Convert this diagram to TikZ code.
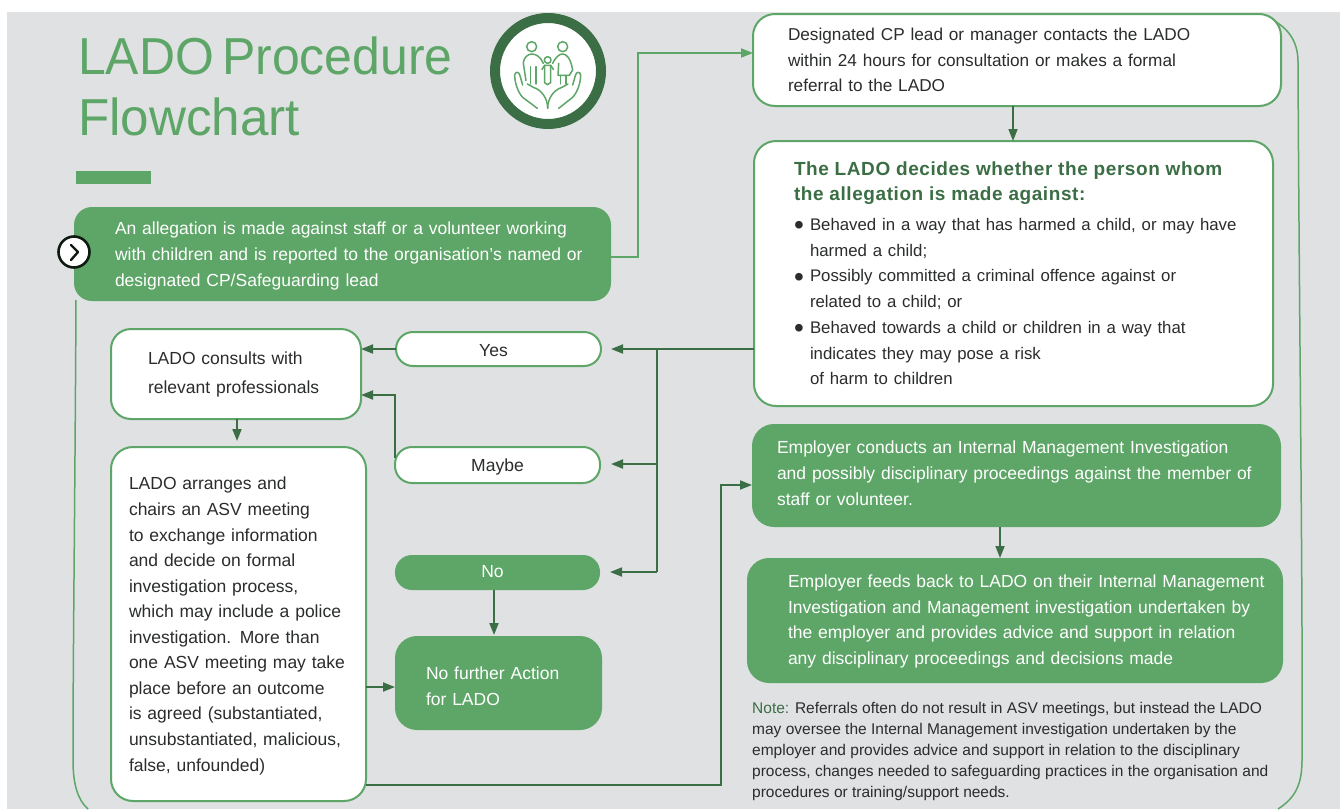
\documentclass[tikz,border=0pt]{standalone}
\usepackage{fontspec}
\setmainfont{Liberation Sans}
\usetikzlibrary{arrows.meta}
\definecolor{gfill}{HTML}{5DA667}
\definecolor{gdark}{HTML}{3B6E45}
\definecolor{gbg}{HTML}{E0E1E3}
\definecolor{gtext}{HTML}{2A2D2B}
\newcommand{\bodyf}{\fontsize{17.5}{25.7}\selectfont}
\newcommand{\topgap}[1]{\rule{0pt}{#1pt}}
\newcommand{\botgap}[1]{\rule[-#1pt]{0pt}{1pt}}
\newcommand{\bigdot}{\makebox[16pt][l]{\raisebox{-4.2pt}[0pt][0pt]{\fontsize{28}{28}\selectfont\textbullet}}}
\tikzset{
  x=1pt,y=-1pt,
  boxbase/.style={rectangle,anchor=north west,align=left,inner ysep=0pt,outer sep=0pt,font=\bodyf},
  wbox/.style={boxbase,draw=gfill,line width=2pt,fill=white,text=gtext},
  gbox/.style={boxbase,fill=gfill,text=white},
  pillw/.style={rectangle,anchor=north west,outer sep=0pt,draw=gfill,line width=2pt,fill=white,text=gtext,align=center,font=\bodyf,inner sep=0pt,rounded corners=17pt},
  pillg/.style={rectangle,anchor=north west,outer sep=0pt,fill=gfill,text=white,align=center,font=\bodyf,inner sep=0pt,rounded corners=17pt},
  link/.style={draw=gdark,line width=1.8pt,-{Triangle[length=12pt,width=9pt]}},
  lightlink/.style={draw=gfill,line width=1.8pt,-{Triangle[length=12pt,width=9pt]}},
  outline/.style={draw=gfill,line width=1.5pt},
  iconline/.style={draw=gfill,line width=1.5pt,line join=round,line cap=round},
}
\begin{document}
\begin{tikzpicture}
\useasboundingbox (0,0) rectangle (1340,809);
\fill[gbg] (7,12) rectangle (1340,809);

% outer outline
\draw[outline] (76,300) .. controls (75,500) and (73,650) .. (73,760) .. controls (73,785) and (78,800) .. (88,809);
\draw[outline] (1262,15) .. controls (1285,24) and (1298,38) .. (1298,62) .. controls (1299,300) and (1303,600) .. (1302,760) .. controls (1302,785) and (1295,798) .. (1278,809);

% title
\node[anchor=base west,inner sep=0pt,text=gfill,font=\fontsize{52}{61}\selectfont,xscale=0.96] (titleA) at (78,74) {LADO\hspace{8.5pt}Procedure};
\node[anchor=base west,inner sep=0pt,text=gfill,font=\fontsize{52}{61}\selectfont,xscale=0.985] (titleB) at (78,135) {Flowchart};
\fill[gfill] (76,171) rectangle (151,184);

% icon
\node[circle,draw=gdark,line width=10pt,fill=white,minimum size=106pt,inner sep=0pt] (icon) at (548,71) {};
\begin{scope}[shift={(480,10)},scale=0.3333]
  \draw[iconline] (155,110) circle (15);
  \draw[iconline] (248,110) circle (15);
  \draw[iconline] (203,150) circle (10);
  % left adult
  \draw[iconline] (138,212) -- (130,160) .. controls (130,142) and (145,132) .. (155,132) .. controls (170,132) and (182,142) .. (190,160);
  \draw[iconline] (152,170) -- (152,222) (168,170) -- (168,222);
  % right adult
  \draw[iconline] (218,160) .. controls (228,140) and (238,132) .. (248,132) .. controls (260,132) and (272,145) .. (278,180) -- (268,196) -- (234,196) -- (236,160);
  \draw[iconline] (242,196) -- (242,222) (258,196) -- (258,222);
  % child
  \draw[iconline] (186,178) -- (194,166) -- (212,166) -- (220,178);
  \draw[iconline] (194,166) -- (194,218) -- (202,224) -- (212,218) -- (212,166);
  % hands
  \draw[iconline] (172,295) -- (128,262) .. controls (112,245) and (104,215) .. (104,195) .. controls (106,183) and (118,185) .. (120,197) -- (128,225);
  \draw[iconline] (142,222) -- (160,232) .. controls (185,240) and (203,265) .. (203,295);
  \draw[iconline] (236,295) -- (278,262) .. controls (294,245) and (302,215) .. (302,195) .. controls (300,183) and (288,185) .. (286,197) -- (278,225);
  \draw[iconline] (264,222) -- (246,232) .. controls (221,240) and (203,265) .. (203,295);
\end{scope}

% boxes
\node[gbox,rounded corners=18pt,minimum width=537pt,minimum height=94pt,text width=455pt,inner xsep=41pt] (alleg) at (74,207) {\topgap{16.6}\mbox{An allegation is made against staff or a volunteer working}\\\mbox{with children and is reported to the organisation’s named or}\\designated CP/Safeguarding lead};
\node[circle,draw=black!75!gdark,line width=2.6pt,fill=white,minimum size=31pt,inner sep=0pt] (badge) at (74,252) {};
\draw[draw=black!75!gdark,line width=2.4pt,line cap=round,line join=round] (71,245) -- (78,252) -- (71,260);

\node[wbox,rounded corners=22pt,minimum width=528pt,minimum height=92pt,text width=458pt,inner xsep=35pt] (contact) at (753,14) {{\fontsize{17.2}{25.7}\selectfont Designated CP lead or manager contacts the LADO\\within 24 hours for consultation or makes a formal\\referral to the LADO}};

\node[wbox,rounded corners=22pt,minimum width=519pt,minimum height=265pt,text width=439pt,inner xsep=40pt] (decides) at (754,141) {{\fontsize{19}{25}\selectfont\bfseries\addfontfeature{LetterSpace=3}\color{gdark}The LADO decides whether the person whom\\the allegation is made against:\par}\vspace{4pt}\fontsize{16.8}{25.7}\selectfont\mbox{\bigdot Behaved in a way that has harmed a child, or may have}\\\hspace*{16pt}harmed a child;\\\bigdot Possibly committed a criminal offence against or\\\hspace*{16pt}related to a child; or\\\bigdot Behaved towards a child or children in a way that\\\hspace*{16pt}indicates they may pose a risk\\\hspace*{16pt}of harm to children};

\node[wbox,rounded corners=20pt,minimum width=250pt,minimum height=90pt,text width=176pt,inner xsep=37pt,font=\fontsize{17.5}{29}\selectfont] (consults) at (111,329) {LADO consults with\\relevant professionals};

\node[pillw,minimum width=205pt,minimum height=34pt] (yes) at (396,332) {\topgap{14.6}Yes\hspace*{10pt}};
\node[pillw,minimum width=205pt,minimum height=36pt] (maybe) at (395,447) {\topgap{16.6}Maybe};
\node[pillg,minimum width=205pt,minimum height=35pt] (no) at (395,555) {\botgap{2}No\hspace*{10pt}};

\node[gbox,rounded corners=22pt,minimum width=207pt,minimum height=94pt,text width=145pt,inner xsep=31pt] (nofurther) at (395,636) {\topgap{18.6}No further Action\\for LADO};

\node[wbox,rounded corners=22pt,minimum width=255pt,minimum height=354pt,text width=219pt,inner xsep=18pt,font=\fontsize{17.5}{25.55}\selectfont] (asv) at (111,447) {\topgap{16.6}LADO arranges and\\chairs an ASV meeting\\to exchange information\\and decide on formal\\investigation process,\\which may include a police\\investigation. More than\\one ASV meeting may take\\place before an outcome\\is agreed (substantiated,\\unsubstantiated, malicious,\\false, unfounded)};

\node[gbox,rounded corners=22pt,minimum width=529pt,minimum height=103pt,text width=479pt,inner xsep=25pt] (employer) at (752,424) {Employer conducts an Internal Management Investigation\\and possibly disciplinary proceedings against the member of\\staff or volunteer.\botgap{4.7}};

\node[gbox,rounded corners=22pt,minimum width=536pt,minimum height=125pt,text width=454pt,inner xsep=41pt] (feeds) at (747,558) {\topgap{14.6}\mbox{Employer feeds back to LADO on their Internal Management}\\\mbox{Investigation and Management investigation undertaken by}\\the employer and provides advice and support in relation\\any disciplinary proceedings and decisions made};

\node[anchor=north west,inner sep=0pt,align=left,text=gtext,font=\fontsize{15.5}{21}\selectfont] (note) at (752,702) {{\color{gdark}Note:} Referrals often do not result in ASV meetings, but instead the LADO\\may oversee the Internal Management investigation undertaken by the\\employer and provides advice and support in relation to the disciplinary\\process, changes needed to safeguarding practices in the organisation and\\procedures or training/support needs.};

% connectors
\coordinate (aR) at (alleg.east |- 0,257);
\coordinate (c1) at (638,257);
\coordinate (c2) at (638,53);
\coordinate (cL) at (contact.west |- 0,53);
\draw[lightlink] (aR) -- (c1) -- (c2) -- (cL);

\coordinate (cB) at (1013,106);
\coordinate (dT) at (1013,141);
\draw[link] (cB) -- (dT);

\coordinate (dL) at (decides.west |- 0,349);
\coordinate (jY) at (657,349);
\coordinate (jM) at (657,464);
\coordinate (jN) at (657,572);
\coordinate (yT) at (611,349);
\coordinate (mT) at (611,464);
\coordinate (nT) at (610,572);
\draw[link] (dL) -- (yT);
\draw[draw=gdark,line width=1.8pt] (jY) -- (jN);
\draw[link] (jM) -- (mT);
\draw[link] (jN) -- (nT);

\draw[link] (yes.west) -- (consults.east |- yes.west);
\coordinate (mU) at (395,395);
\coordinate (mS) at (395,458);
\draw[link] (mS) -- (mU) -- (consults.east |- mU);

\coordinate (conB) at (237,419);
\coordinate (asvT) at (237,441);
\draw[link] (conB) -- (asvT);

\coordinate (noB) at (494,590);
\coordinate (nfT) at (494,635);
\draw[link] (noB) -- (nfT);

\coordinate (asvA) at (asv.east |- 0,687);
\draw[link] (asvA) -- (nofurther.west |- asvA);

\coordinate (asvB) at (asv.east |- 0,785);
\coordinate (e1) at (721,785);
\coordinate (e2) at (721,485);
\draw[link] (asvB) -- (e1) -- (e2) -- (employer.west |- e2);

\coordinate (eB) at (1000,527);
\coordinate (fT) at (1000,558);
\draw[link] (eB) -- (fT);
\end{tikzpicture}
\end{document}
